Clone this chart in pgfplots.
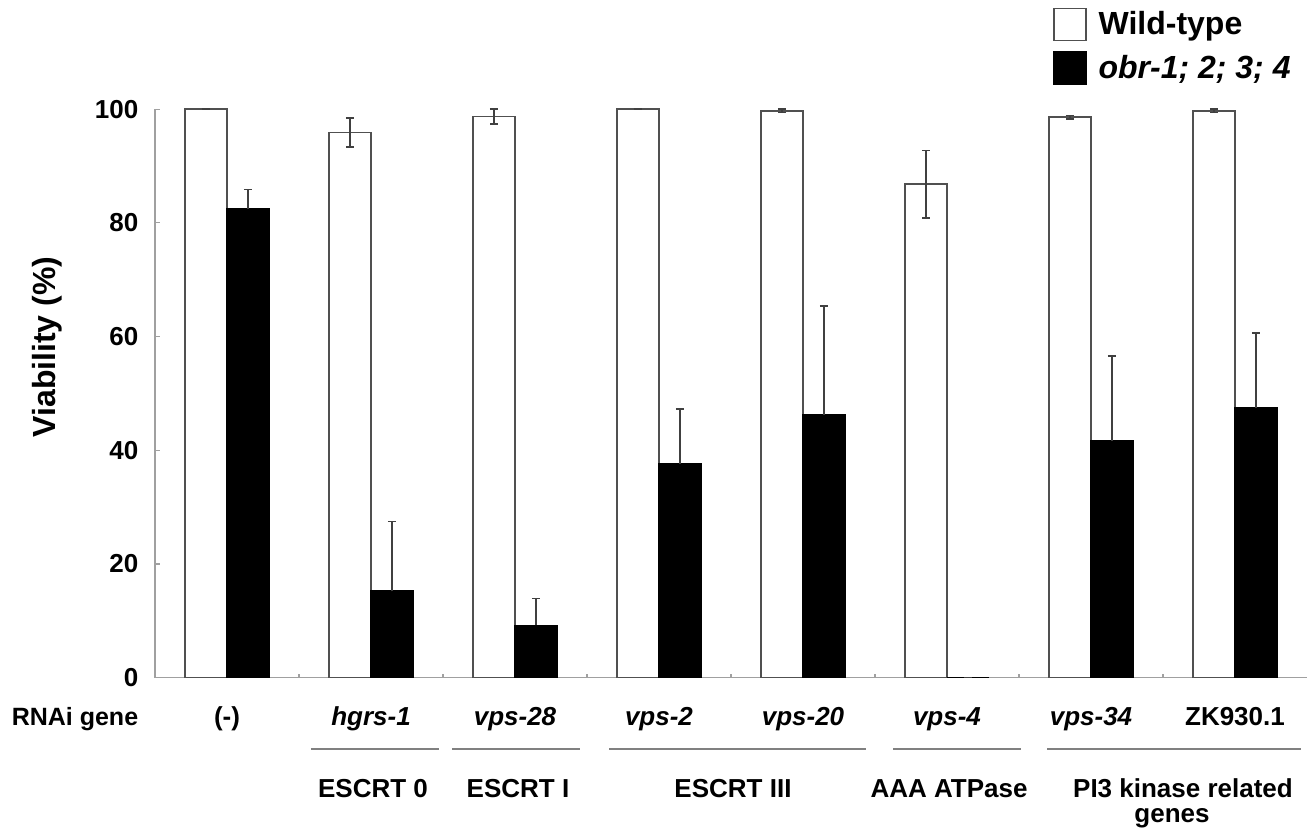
\documentclass[border=0pt]{standalone}
\usepackage{pgfplots}
\pgfplotsset{compat=1.18}
\usepackage{fontspec}
\setmainfont{Liberation Sans}
\definecolor{axgray}{HTML}{A0A0A0}
\definecolor{barline}{HTML}{505050}
\definecolor{errc}{HTML}{404040}
\definecolor{grpline}{HTML}{808080}
\begin{document}
\begin{tikzpicture}
\useasboundingbox (-77.5pt,-75.65pt) rectangle (579pt,338.85pt);
\begin{axis}[
  at={(0pt,0pt)}, anchor=south west,
  scale only axis, width=576pt, height=284.25pt,
  xmin=0, xmax=8, ymin=0, ymax=100,
  axis lines*=left,
  axis line style={axgray, line width=0.6pt},
  clip=false,
  ybar=0pt, bar width=21pt,
  ytick={0,20,40,60,80,100},
  ytick style={axgray, line width=0.6pt},
  tick align=inside,
  major tick length=2.5pt,
  xtick={0.5,1.5,2.5,3.5,4.5,5.5,6.5,7.5},
  xticklabels={(-),\textit{hgrs-1},\textit{vps-28},\textit{vps-2},\textit{vps-20},\textit{vps-4},\textit{vps-34},ZK930.1},
  x tick style={draw=none},
  minor xtick={1,2,3,4,5,6,7},
  minor x tick style={draw=axgray, line width=0.6pt},
  minor tick length=2pt,
  xticklabel style={anchor=base, yshift=-24pt, font=\fontsize{13}{15}\selectfont\bfseries, inner sep=0pt},
  yticklabel style={anchor=east, xshift=-4.8pt, font=\fontsize{13}{15}\selectfont\bfseries},
  /pgf/number format/assume math mode=true,
  legend style={at={(axis description cs:0.7795,1.1785)}, anchor=north west, draw=none, fill=none,
     inner sep=0pt, outer sep=0pt, row sep=5pt, column sep=5pt,
     font=\fontsize{16}{19}\selectfont\bfseries, nodes={inner sep=1pt}},
  legend cell align=left,
  legend image code/.code={\draw[#1] (0pt,-8pt) rectangle (16pt,8pt);},
]
\addplot[fill=white, draw=barline, line width=0.8pt,
  error bars/.cd, y dir=both, y explicit,
  error bar style={errc, line width=0.8pt},
  error mark options={rotate=90, errc, mark size=2pt, line width=0.8pt}]
  coordinates {
  (0.5,100) +- (0,0)
  (1.5,95.9) +- (0,2.5)
  (2.5,98.7) +- (0,1.3)
  (3.5,100) +- (0,0)
  (4.5,99.7) +- (0,0.3)
  (5.5,86.8) +- (0,5.9)
  (6.5,98.6) +- (0,0.3)
  (7.5,99.7) +- (0,0.3)
  };
\addlegendentry{Wild-type}
\addplot[fill=black, draw=black, line width=0.8pt,
  error bars/.cd, y dir=plus, y explicit,
  error bar style={errc, line width=0.8pt},
  error mark options={rotate=90, errc, mark size=2pt, line width=0.8pt}]
  coordinates {
  (0.5,82.4) +- (0,3.5)
  (1.5,15.2) +- (0,12.3)
  (2.5,9.2) +- (0,4.7)
  (3.5,37.6) +- (0,9.7)
  (4.5,46.2) +- (0,19.2)
  (5.5,0) +- (0,0)
  (6.5,41.7) +- (0,14.9)
  (7.5,47.4) +- (0,13.2)
  };
\addlegendentry{\textit{obr-1; 2; 3; 4}}
\end{axis}
\node[rotate=90, font=\fontsize{16}{19}\selectfont\bfseries] at (-54pt,165.35pt) {Viability (\%)};
\node[anchor=base, font=\fontsize{12.5}{15}\selectfont\bfseries, inner sep=0pt] at (-40pt,-24pt) {RNAi gene};
\begin{scope}[grpline, line width=0.6pt]
\draw (78pt,-35.65pt) -- (142pt,-35.65pt);
\draw (148.5pt,-35.65pt) -- (212.5pt,-35.65pt);
\draw (227pt,-35.65pt) -- (355.5pt,-35.65pt);
\draw (369pt,-35.65pt) -- (433pt,-35.65pt);
\draw (446pt,-35.65pt) -- (573pt,-35.65pt);
\end{scope}
\begin{scope}[every node/.style={anchor=base, font=\fontsize{13}{15}\selectfont\bfseries, inner sep=0pt}]
\node at (109pt,-59.8pt) {ESCRT 0};
\node at (181.5pt,-59.8pt) {ESCRT I};
\node at (289pt,-59.8pt) {ESCRT III};
\node at (397pt,-59.8pt) {AAA ATPase};
\node at (514pt,-59.8pt) {PI3 kinase related};
\node at (508.5pt,-72.4pt) {genes};
\end{scope}
\end{tikzpicture}
\end{document}
